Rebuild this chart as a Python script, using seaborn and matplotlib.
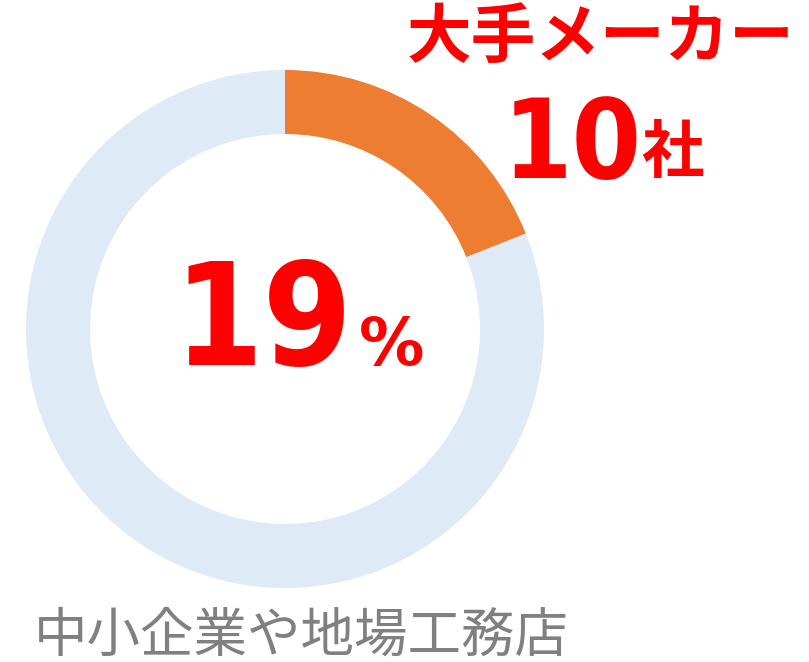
import matplotlib
matplotlib.use("Agg")
import matplotlib.pyplot as plt
import seaborn as sns

# data
labels = ["大手メーカー", "中小企業や地場工務店"]
shares = [19, 81]
maker_count = 10
colors = ["#ED7D31", "#DEEAF6"]

sns.set_theme(style="white")
plt.rcParams["font.family"] = ["Noto Sans CJK JP", "DejaVu Sans"]

W, H = 809, 662
fig = plt.figure(figsize=(W / 100, H / 100), dpi=100)

# donut: center (285, 329), outer radius 259 px
cx, cy, r = 285, 329, 259
ax = fig.add_axes([(cx - r) / W, (H - cy - r) / H, 2 * r / W, 2 * r / H])
ax.pie(shares, colors=colors, startangle=90, counterclock=False, radius=1,
       wedgeprops=dict(width=64 / r, linewidth=0))
ax.set_xlim(-1, 1)
ax.set_ylim(-1, 1)
ax.set_aspect("equal")
ax.axis("off")


def px(x, y):
    return x / W, 1 - y / H


red = "#FF0000"
num_font = ["DejaVu Sans"]

# center percentage
fig.text(*px(352, 365), f"{shares[0]}", color=red, fontsize=103, fontweight="bold",
         family=num_font, fontstretch="condensed", ha="right", va="baseline")
fig.text(*px(359, 365), "%", color=red, fontsize=47, fontweight="bold",
         family=num_font, ha="left", va="baseline")

# top label
fig.text(*px(600, 38), labels[0], color=red, fontsize=46.5, fontweight="bold",
         ha="center", va="center")
fig.text(*px(642, 178), f"{maker_count}", color=red, fontsize=80, fontweight="bold",
         family=num_font, fontstretch="condensed", ha="right", va="baseline")
fig.text(*px(672, 153), "社", color=red, fontsize=45, fontweight="bold",
         ha="center", va="center")

# bottom label
fig.text(*px(301, 636), labels[1], color="#808080", fontsize=38.5,
         ha="center", va="center")

fig.savefig("out.png", dpi=100)
